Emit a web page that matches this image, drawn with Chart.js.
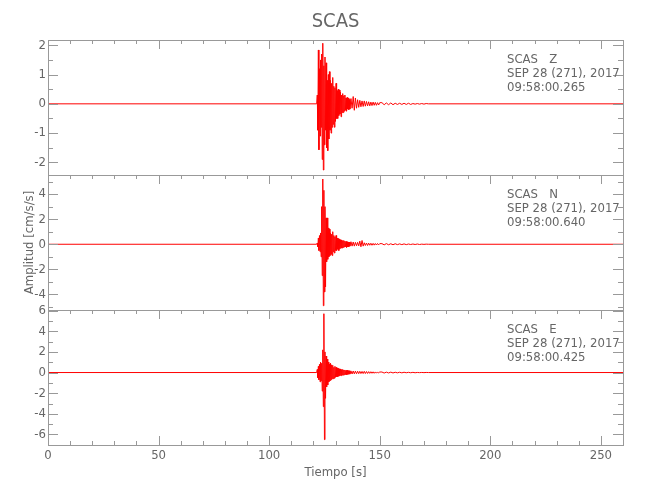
<!DOCTYPE html>
<html>
<head>
<meta charset="utf-8">
<script src="https://cdn.jsdelivr.net/npm/chart.js@4.4.1/dist/chart.umd.min.js"></script>
<style>
  html, body { margin: 0; padding: 0; background: #fff; }
  #wrap { position: relative; width: 650px; height: 500px; }
  #wrap canvas { position: absolute; left: 0; top: 0; }
</style>
</head>
<body>
<div id="wrap">
  <canvas id="panelZ" width="650" height="500"></canvas>
  <canvas id="panelN" width="650" height="500"></canvas>
  <canvas id="panelE" width="650" height="500"></canvas>
</div>
<script>
// ── Data ──────────────────────────────────────────────────

const station    = 'SCAS';
const channels   = ['Z', 'N', 'E'];
const dateLine   = 'SEP 28 (271), 2017';
const startTimes = ['09:58:00.265', '09:58:00.640', '09:58:00.425'];

// sample times [s] (sparse where the trace is flat)
const tSec = [
    0,
    121.5, 121.75, 122, 122.25, 122.5, 122.75, 123, 123.25, 123.5, 123.75,
    124, 124.25, 124.5, 124.75, 125, 125.25, 125.5, 125.75, 126, 126.25,
    126.5, 126.75, 127, 127.25, 127.5, 127.75, 128, 128.25, 128.5, 128.75,
    129, 129.25, 129.5, 129.75, 130, 130.25, 130.5, 130.75, 131, 131.25,
    131.5, 131.75, 132, 132.25, 132.5, 132.75, 133, 133.25, 133.5, 133.75,
    134, 134.25, 134.5, 134.75, 135, 135.25, 135.5, 135.75, 136, 136.25,
    136.5,
    137, 137.5, 138, 138.5, 139, 139.5, 140, 140.5, 141, 141.5,
    142, 142.5, 143, 143.5, 144, 144.5, 145, 145.5, 146, 146.5,
    147, 147.5, 148, 148.5, 149, 149.5, 150,
    151, 152, 153, 154, 155, 156, 157, 158, 159, 160,
    161, 162, 163, 164, 165, 166, 167, 168, 169, 170,
    171, 172,
    260
];

// amplitudes [cm/s/s]
const ampZ = [
    0,
    0, 0.3, -0.9, 1.84, -1.57, 1.2, -1.1, 1.5, -0.8, 1.7,
    -1.9, 2.07, -2.26, 1.3, -1.4, 1.6, -0.9, 1.4, -1.5, 0.8,
    -1.6, 1.0, -1.2, 1.1, -0.9, 0.8, -1.0, 0.7, -0.8, 0.9,
    -0.7, 0.6, -0.8, 0.55, -0.6, 0.7, -0.5, 0.45, -0.5, 0.5,
    -0.4, 0.47, -0.35, 0.4, -0.44, 0.3, -0.3, 0.35, -0.3, 0.28,
    -0.25, 0.3, -0.22, 0.2, -0.25, 0.22, -0.18, 0.2, -0.2, 0.15,
    -0.18,
    0.18, -0.15, 0.25, -0.22, 0.2, -0.15, 0.14, -0.12, 0.12, -0.1,
    0.1, -0.09, 0.1, -0.08, 0.08, -0.07, 0.07, -0.07, 0.06, -0.06,
    0.06, -0.05, 0.05, -0.05, 0.04, -0.04, 0.04,
    0.04, -0.03, 0.03, -0.03, 0.03, -0.03, 0.02, -0.02, 0.02, -0.02,
    0.02, -0.02, 0.02, -0.02, 0.01, -0.01, 0.01, -0.01, 0.01, -0.01,
    0.01, 0,
    0
];

const ampN = [
    0,
    0, 0.1, -0.2, 0.5, -0.5, 0.7, -0.6, 0.9, -1.0, 3.0,
    -2.5, 5.2, -4.9, 4.3, -3.8, 3.0, -3.4, 2.1, -1.4, 2.1,
    -1.2, 1.3, -1.0, 1.2, -0.9, 0.9, -0.8, 0.8, -0.9, 1.0,
    -0.6, 0.7, -0.7, 0.6, -0.5, 0.7, -0.5, 0.5, -0.4, 0.45,
    -0.5, 0.4, -0.35, 0.35, -0.3, 0.35, -0.3, 0.3, -0.25, 0.3,
    -0.22, 0.25, -0.2, 0.22, -0.25, 0.2, -0.2, 0.18, -0.2, 0.17,
    -0.15,
    0.2, -0.15, 0.18, -0.15, 0.15, -0.12, 0.15, -0.13, 0.25, -0.2,
    0.3, -0.15, 0.12, -0.1, 0.1, -0.1, 0.09, -0.08, 0.08, -0.08,
    0.07, -0.07, 0.06, -0.06, 0.06, -0.05, 0.05,
    0.05, -0.05, 0.05, -0.04, 0.04, -0.04, 0.04, -0.03, 0.03, -0.03,
    0.03, -0.03, 0.02, -0.02, 0.02, -0.02, 0.02, -0.02, 0.01, -0.01,
    0.01, 0,
    0
];

const ampE = [
    0,
    0, 0.3, -0.5, 0.6, -0.7, 0.8, -0.9, 1.0, -0.8, 0.9,
    -1.8, 2.2, -3.3, 5.7, -6.5, 2.0, -2.5, 1.6, -1.4, 1.3,
    -1.2, 1.0, -0.9, 0.8, -0.8, 0.9, -0.7, 0.75, -0.6, 0.7,
    -0.6, 0.5, -0.55, 0.6, -0.45, 0.5, -0.4, 0.45, -0.4, 0.4,
    -0.35, 0.35, -0.3, 0.35, -0.3, 0.3, -0.25, 0.3, -0.25, 0.25,
    -0.22, 0.25, -0.2, 0.2, -0.2, 0.22, -0.18, 0.18, -0.16, 0.17,
    -0.15,
    0.16, -0.14, 0.15, -0.13, 0.14, -0.12, 0.13, -0.11, 0.12, -0.1,
    0.11, -0.1, 0.12, -0.1, 0.1, -0.09, 0.09, -0.08, 0.08, -0.07,
    0.07, -0.07, 0.06, -0.06, 0.06, -0.05, 0.05,
    0.05, -0.05, 0.04, -0.04, 0.04, -0.04, 0.03, -0.03, 0.03, -0.03,
    0.03, -0.02, 0.02, -0.02, 0.02, -0.02, 0.01, -0.01, 0.01, -0.01,
    0.01, 0,
    0
];

const traces = [ampZ, ampN, ampE];

// axis ranges and tick spacing per panel
const yMin   = [-2.43, -5.24, -7.02];
const yMax   = [2.18, 5.52, 6.06];
const yMajor = [1, 2, 2];
const yMinor = [0.5, 1, 1];
const xMax   = 260;
const xMajor = 50;
const xMinor = 10;

// ── Layout / style ────────────────────────────────────────

const FONT       = "'Liberation Sans Narrow', 'DejaVu Sans Condensed', sans-serif";
const TEXT_COLOR = '#666';
const AXIS_COLOR = '#999';
const TRACE      = '#ff0000';
const canvasIds  = ['panelZ', 'panelN', 'panelE'];
const panelTop   = [40, 175, 310];
const panelBot   = [175, 310, 445];

// ── Frame, inward ticks and panel labels ──────────────────

function tickList(min, max, minor, major) {
    const out = [];
    for (let k = Math.ceil(min / minor - 1e-9); k <= Math.floor(max / minor + 1e-9); k++) {
        const v = k * minor;
        const r = v / major;
        out.push({ v, major: Math.abs(r - Math.round(r)) < 1e-6 });
    }
    return out;
}

const frameTicks = {
    id: 'frameTicks',
    afterDatasetsDraw(chart, args, opts) {
        const { ctx, chartArea: a, scales: { x, y } } = chart;
        ctx.save();
        ctx.strokeStyle = AXIS_COLOR;
        ctx.lineWidth = 1;
        ctx.strokeRect(a.left + 0.5, a.top + 0.5, a.right - a.left, a.bottom - a.top);

        ctx.beginPath();
        tickList(0, xMax, xMinor, xMajor).forEach(t => {
            const px = Math.round(x.getPixelForValue(t.v)) + 0.5;
            const len = t.major ? 9 : 4;
            ctx.moveTo(px, a.top);
            ctx.lineTo(px, a.top + len);
            if (opts.bottomTicks) {
                ctx.moveTo(px, a.bottom);
                ctx.lineTo(px, a.bottom - len);
            }
        });
        tickList(y.min, y.max, opts.minor, opts.major).forEach(t => {
            const py = Math.round(y.getPixelForValue(t.v)) + 0.5;
            const len = t.major ? 10 : 5;
            ctx.moveTo(a.left, py);
            ctx.lineTo(a.left + len, py);
            ctx.moveTo(a.right, py);
            ctx.lineTo(a.right - len, py);
        });
        ctx.stroke();

        ctx.fillStyle = TEXT_COLOR;
        ctx.font = '13px ' + FONT;
        ctx.textAlign = 'left';
        ctx.textBaseline = 'middle';
        opts.lines.forEach((s, k) => {
            ctx.fillText(s, a.right - 116, a.top + 20 + k * 14);
        });
        ctx.restore();
    }
};

// ── Panels ────────────────────────────────────────────────

function makePanel(i) {
    const isTop    = i === 0;
    const isMiddle = i === 1;
    const isBottom = i === 2;
    const points   = tSec.map((t, k) => ({ x: t, y: traces[i][k] }));

    new Chart(document.getElementById(canvasIds[i]), {
        type: 'line',
        data: {
            datasets: [{
                data: points,
                borderColor: TRACE,
                borderWidth: 1,
                pointRadius: 0,
                tension: 0
            }]
        },
        options: {
            responsive: false,
            animation: false,
            events: [],
            layout: {
                padding: {
                    top: isTop ? 0 : panelTop[i],
                    bottom: isBottom ? 10 : 500 - panelBot[i],
                    left: 0,
                    right: 27
                }
            },
            plugins: {
                legend:  { display: false },
                tooltip: { enabled: false },
                title: {
                    display: isTop,
                    text: station,
                    fullSize: false,
                    color: TEXT_COLOR,
                    font: { family: FONT, size: 20, weight: 'normal', lineHeight: 1.2 },
                    padding: { top: 10, bottom: 6 }
                },
                frameTicks: {
                    bottomTicks: isBottom,
                    major: yMajor[i],
                    minor: yMinor[i],
                    lines: [station + '   ' + channels[i], dateLine, startTimes[i]]
                }
            },
            scales: {
                x: {
                    type: 'linear',
                    min: 0,
                    max: xMax,
                    display: isBottom,
                    grid:   { display: false, drawTicks: false },
                    border: { display: false },
                    ticks: {
                        stepSize: xMajor,
                        includeBounds: false,
                        autoSkip: false,
                        maxRotation: 0,
                        padding: 3,
                        color: TEXT_COLOR,
                        font: { family: FONT, size: 13 }
                    },
                    title: {
                        display: isBottom,
                        text: 'Tiempo [s]',
                        color: TEXT_COLOR,
                        font: { family: FONT, size: 13, lineHeight: 1.2 },
                        padding: { top: 0, bottom: 10 }
                    },
                    afterFit: s => { s.height = isBottom ? 45 : 0; }
                },
                y: {
                    min: yMin[i],
                    max: yMax[i],
                    grid:   { display: false, drawTicks: false },
                    border: { display: false },
                    ticks: {
                        stepSize: yMajor[i],
                        includeBounds: false,
                        padding: 2,
                        color: TEXT_COLOR,
                        font: { family: FONT, size: 13 }
                    },
                    title: {
                        display: isMiddle,
                        text: 'Amplitud [cm/s/s]',
                        color: TEXT_COLOR,
                        font: { family: FONT, size: 13, lineHeight: 1.2 },
                        padding: { top: 22, bottom: 0 }
                    },
                    afterFit: s => { s.width = 48; }
                }
            }
        },
        plugins: [frameTicks]
    });
}

[0, 1, 2].forEach(makePanel);
</script>
</body>
</html>
